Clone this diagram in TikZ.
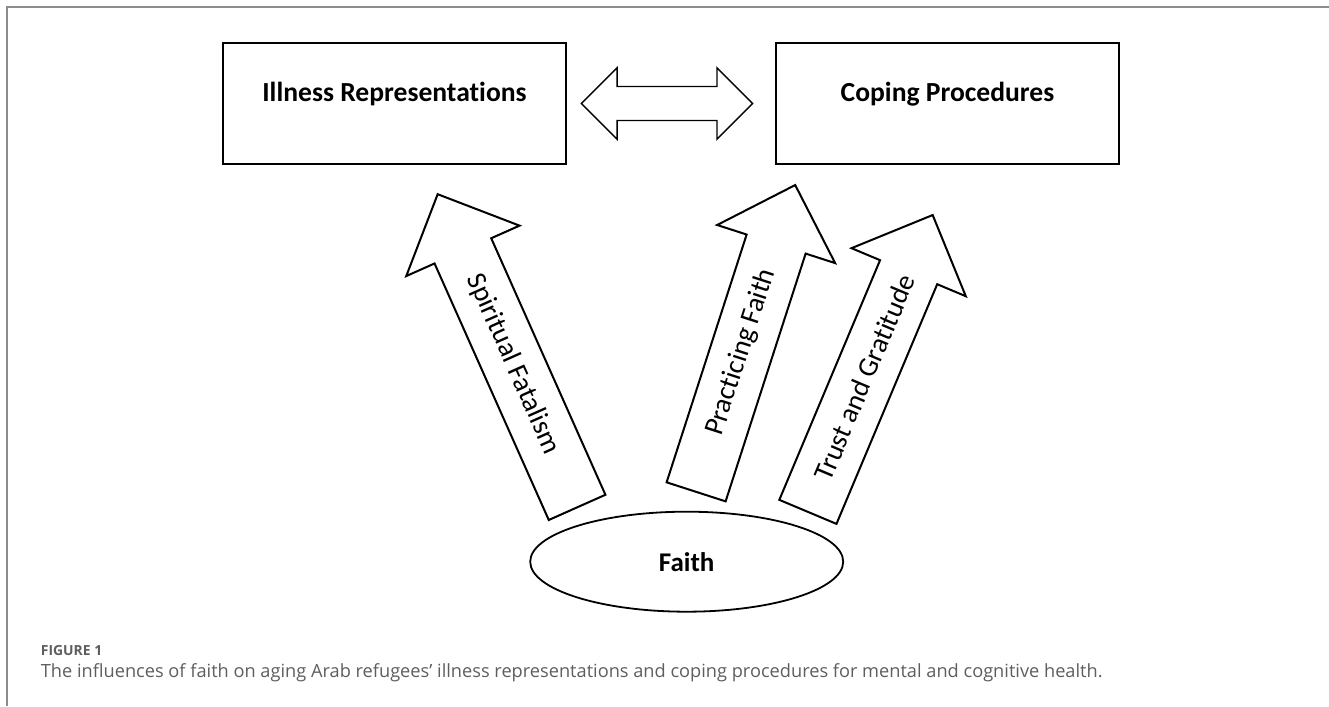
\documentclass[tikz,border=0pt]{standalone}
\usepackage{fontspec}
\setmainfont{Carlito}[Ligatures=CommonOff]
\newfontfamily\didafont{Open Sans}
\usepackage{tikz}
\usetikzlibrary{shapes.arrows,shapes.geometric,calc}
\definecolor{grigio}{HTML}{5E5E5E}
\definecolor{cornice}{HTML}{8C8C8C}

\begin{document}
\begin{tikzpicture}[x=1pt, y=1pt,
        blocco/.style={draw, line width=1.4pt, inner sep=0pt, minimum width=343pt,
            text height=58.7pt, text depth=62.3pt, font=\fontsize{27.6}{33}\selectfont\bfseries},
        freccia/.style={draw, line width=2pt, single arrow, single arrow head extend=31pt,
            inner xsep=0pt, inner ysep=30pt, anchor=tail},
        etichetta/.style={font=\fontsize{28}{34}\selectfont, inner sep=0pt},
        didascalia/.style={anchor=base west, inner sep=0pt, text=grigio}]
        \useasboundingbox (0,0) rectangle (1329,706);

        % Cornice
        \draw[cornice, line width=1.5pt] (7,0) -- (7,699) -- (1329,699);

        % Riquadri
        \node[blocco] (ir) at (394.5,602.5) {Illness Representations};
        \node[blocco] (cp) at (947.5,602.5) {Coping Procedures};

        % Freccia doppia tra i riquadri
        \node[draw, line width=1.4pt, double arrow, double arrow head extend=18.7pt,
            minimum height=171.3pt, inner xsep=0pt, inner ysep=16.3pt]
            (legame) at ($(ir.east)!0.5!(cp.west)+(-4,0)$) {};

        % Fede (ellisse)
        \node[draw, ellipse, line width=1.8pt, minimum width=313pt, minimum height=100pt,
            inner sep=0pt, font=\fontsize{27}{32}\selectfont\bfseries] (fede) at (686.7,144.3) {Faith};

        % Frecce verso l'alto
        \node[freccia, rotate=114, minimum height=342.8pt] (sf) at (577.5,197.7) {};
        \node[freccia, rotate=72.1, minimum height=322.4pt] (pf) at (695.8,213.2) {};
        \node[freccia, rotate=67.2, minimum height=322pt] (tg) at (807.5,193.2) {};

        % Etichette delle frecce
        \node[etichetta, rotate=-66] at ($(sf.tail)!0.457!(sf.tip)$) {Spiritual Fatalism};
        \node[etichetta, rotate=72.1] at ($(pf.tail)!0.455!(pf.tip)$) {Practicing Faith};
        \node[etichetta, rotate=67.2] at ($(tg.tail)!0.453!(tg.tip)$) {Trust and Gratitude};

        % Didascalia
        \node[didascalia, font=\didafont\bfseries\fontsize{13.9}{16}\selectfont] (fig) at (40.7,50) {FIGURE 1};
        \node[didascalia, font=\didafont\fontsize{18.2}{21}\selectfont] (testo) at (40.7,28.7)
            {The influences of faith on aging Arab refugees’ illness representations and coping procedures for mental and cognitive health.};

    \end{tikzpicture}
\end{document}
